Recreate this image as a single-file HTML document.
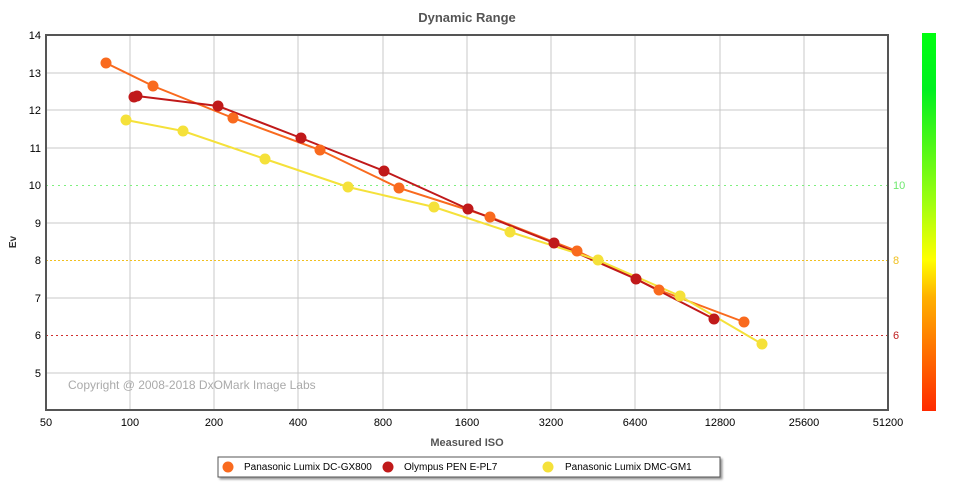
<!DOCTYPE html>
<html><head><meta charset="utf-8"><style>
body{margin:0;background:#fff;}
svg{display:block;font-family:"Liberation Sans",sans-serif;}
</style></head><body>
<svg width="954" height="498" viewBox="0 0 954 498">
<defs>
<linearGradient id="cb" x1="0" y1="1" x2="0" y2="0">
<stop offset="0" stop-color="#ff2a00"/>
<stop offset="0.3" stop-color="#ffb000"/>
<stop offset="0.4" stop-color="#ffff00"/>
<stop offset="0.55" stop-color="#a0ff10"/>
<stop offset="0.85" stop-color="#00f020"/>
<stop offset="1" stop-color="#00ff10"/>
</linearGradient>
<filter id="sh" x="-5%" y="-20%" width="110%" height="150%"><feDropShadow dx="2" dy="2" stdDeviation="1" flood-opacity="0.4"/></filter>
</defs>
<text x="467" y="22" text-anchor="middle" font-size="13" font-weight="bold" fill="#555">Dynamic Range</text>
<g stroke="#c8c8c8" stroke-width="1">
<line x1="130" y1="35" x2="130" y2="410"/><line x1="214" y1="35" x2="214" y2="410"/><line x1="298" y1="35" x2="298" y2="410"/><line x1="383" y1="35" x2="383" y2="410"/><line x1="467" y1="35" x2="467" y2="410"/><line x1="551" y1="35" x2="551" y2="410"/><line x1="635" y1="35" x2="635" y2="410"/><line x1="720" y1="35" x2="720" y2="410"/><line x1="804" y1="35" x2="804" y2="410"/>
<line x1="46" y1="73" x2="888" y2="73"/><line x1="46" y1="110" x2="888" y2="110"/><line x1="46" y1="148" x2="888" y2="148"/><line x1="46" y1="223" x2="888" y2="223"/><line x1="46" y1="298" x2="888" y2="298"/><line x1="46" y1="373" x2="888" y2="373"/>
</g>
<line x1="46" y1="185.5" x2="888" y2="185.5" stroke="#7ef07e" stroke-dasharray="2,4"/>
<line x1="46" y1="260.5" x2="888" y2="260.5" stroke="#f0c020" stroke-dasharray="2,2"/>
<line x1="46" y1="335.5" x2="888" y2="335.5" stroke="#d03030" stroke-dasharray="2,3"/>
<rect x="46" y="35" width="842" height="375" fill="none" stroke="#555" stroke-width="2"/>
<g font-size="11" fill="#000" text-anchor="end">
<text x="41" y="39">14</text><text x="41" y="77">13</text><text x="41" y="114">12</text><text x="41" y="152">11</text><text x="41" y="189">10</text><text x="41" y="227">9</text><text x="41" y="264">8</text><text x="41" y="302">7</text><text x="41" y="339">6</text><text x="41" y="377">5</text>
</g>
<g font-size="11" fill="#000" text-anchor="middle">
<text x="46" y="426">50</text><text x="130" y="426">100</text><text x="214" y="426">200</text><text x="298" y="426">400</text><text x="383" y="426">800</text><text x="467" y="426">1600</text><text x="551" y="426">3200</text><text x="635" y="426">6400</text><text x="720" y="426">12800</text><text x="804" y="426">25600</text><text x="888" y="426">51200</text>
</g>
<text x="893" y="189" font-size="11" fill="#6ee86e">10</text>
<text x="893" y="264" font-size="11" fill="#f0c020">8</text>
<text x="893" y="339" font-size="11" fill="#c02020">6</text>
<text x="467" y="446" text-anchor="middle" font-size="11" font-weight="bold" fill="#555">Measured ISO</text>
<text x="16" y="242" text-anchor="middle" font-size="10" font-weight="bold" fill="#333" transform="rotate(-90 16 242)">Ev</text>
<text x="68" y="389" font-size="12" fill="#aaa">Copyright @ 2008-2018 DxOMark Image Labs</text>
<rect x="922" y="33" width="14" height="378" fill="url(#cb)"/>
<g stroke-width="2" fill="none">
<polyline stroke="#f96a1e" points="106,63 153,86 233,118 320,150 399,188 490,217 577,251 659,290 744,322"/>
<polyline stroke="#c0191a" points="134,97 137,96 218,106 301,138 384,171 468,209 554,243 636,279 714,319"/>
<polyline stroke="#f5e13a" points="126,120 183,131 265,159 348,187 434,207 510,232 598,260 680,296 762,344"/>
</g>
<g fill="#f5e13a"><circle cx="126" cy="120" r="5.5"/><circle cx="183" cy="131" r="5.5"/><circle cx="265" cy="159" r="5.5"/><circle cx="348" cy="187" r="5.5"/><circle cx="434" cy="207" r="5.5"/><circle cx="510" cy="232" r="5.5"/><circle cx="598" cy="260" r="5.5"/><circle cx="680" cy="296" r="5.5"/><circle cx="762" cy="344" r="5.5"/></g>
<g fill="#f96a1e"><circle cx="106" cy="63" r="5.5"/><circle cx="153" cy="86" r="5.5"/><circle cx="233" cy="118" r="5.5"/><circle cx="320" cy="150" r="5.5"/><circle cx="399" cy="188" r="5.5"/><circle cx="490" cy="217" r="5.5"/><circle cx="577" cy="251" r="5.5"/><circle cx="659" cy="290" r="5.5"/><circle cx="744" cy="322" r="5.5"/></g>
<g fill="#c0191a"><circle cx="134" cy="97" r="5.5"/><circle cx="137" cy="96" r="5.5"/><circle cx="218" cy="106" r="5.5"/><circle cx="301" cy="138" r="5.5"/><circle cx="384" cy="171" r="5.5"/><circle cx="468" cy="209" r="5.5"/><circle cx="554" cy="243" r="5.5"/><circle cx="636" cy="279" r="5.5"/><circle cx="714" cy="319" r="5.5"/></g>
<rect x="218" y="457" width="502" height="20" fill="#fff" stroke="#555" filter="url(#sh)"/>
<circle cx="228" cy="467" r="5.5" fill="#f96a1e"/>
<text x="244" y="470" font-size="10" fill="#000">Panasonic Lumix DC-GX800</text>
<circle cx="388" cy="467" r="5.5" fill="#c0191a"/>
<text x="404" y="470" font-size="10" fill="#000">Olympus PEN E-PL7</text>
<circle cx="548" cy="467" r="5.5" fill="#f5e13a"/>
<text x="565" y="470" font-size="10" fill="#000">Panasonic Lumix DMC-GM1</text>
</svg>
</body></html>
